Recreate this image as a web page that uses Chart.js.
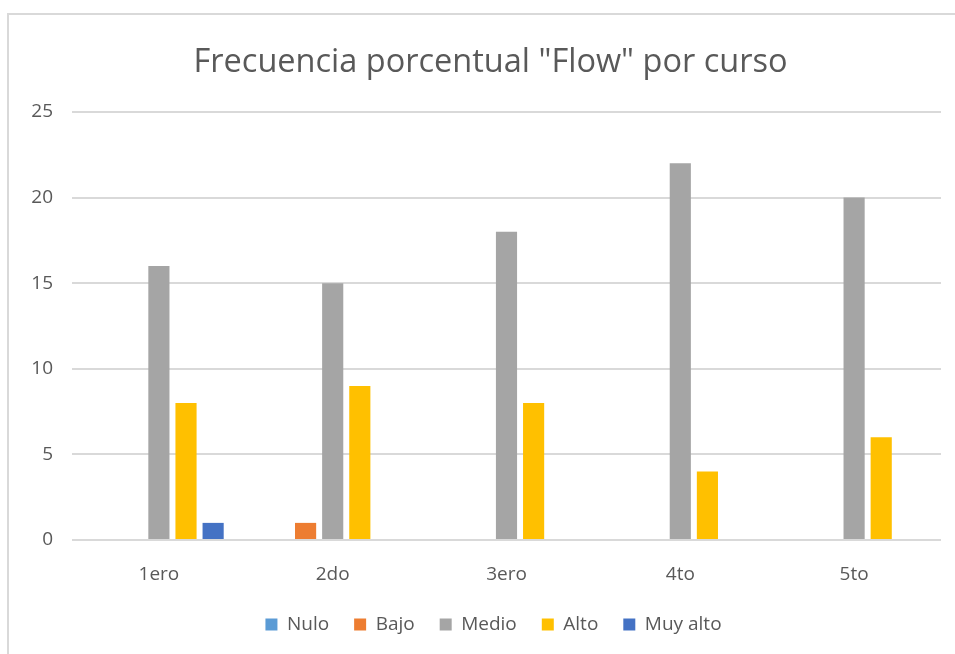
<!DOCTYPE html>
<html lang="es">
<head>
    <meta charset="UTF-8">
    <title>Frecuencia porcentual "Flow" por curso</title>
    <script src="https://cdn.jsdelivr.net/npm/chart.js"></script>
    <style>
        body {
            margin: 0;
            padding: 0;
            background: #ffffff;
        }
        .frame {
            position: absolute;
            left: 7px;
            top: 13px;
            width: 948px;
            height: 641px;
            border-left: 2px solid #d9d9d9;
            border-top: 2px solid #d9d9d9;
        }
        .chart-box {
            position: absolute;
            left: 0;
            top: 0;
            width: 955px;
            height: 654px;
        }
    </style>
</head>
<body>
    <div class="frame"></div>
    <div class="chart-box">
        <canvas id="flowChart"></canvas>
    </div>

    <script>
        // data
        const cursos = ['1ero', '2do', '3ero', '4to', '5to'];
        const nulo = [0, 0, 0, 0, 0];
        const bajo = [0, 1, 0, 0, 0];
        const medio = [16, 15, 18, 22, 20];
        const alto = [8, 9, 8, 4, 6];
        const muyAlto = [1, 0, 0, 0, 0];
        const yTicks = [0, 5, 10, 15, 20, 25];

        const textColor = '#595959';
        const fontFamily = "'Open Sans', 'Noto Sans', sans-serif";

        // title and legend sit a bit right of the canvas centre in the original
        const shiftBlocks = {
            id: 'shiftBlocks',
            afterLayout(chart) {
                chart.titleBlock.left += 40;
                chart.legend.left += 46;
            }
        };

        const ctx = document.getElementById('flowChart').getContext('2d');
        const chart = new Chart(ctx, {
            type: 'bar',
            data: {
                labels: cursos,
                datasets: [
                    { label: 'Nulo', data: nulo, backgroundColor: '#5b9bd5' },
                    { label: 'Bajo', data: bajo, backgroundColor: '#ed7d31' },
                    { label: 'Medio', data: medio, backgroundColor: '#a5a5a5' },
                    { label: 'Alto', data: alto, backgroundColor: '#ffc000' },
                    { label: 'Muy alto', data: muyAlto, backgroundColor: '#4472c4' }
                ]
            },
            options: {
                animation: false,
                responsive: true,
                maintainAspectRatio: false,
                categoryPercentage: 0.78,
                barPercentage: 0.78,
                layout: {
                    padding: { left: 0, right: 14, top: 0, bottom: 10 }
                },
                plugins: {
                    title: {
                        display: true,
                        text: 'Frecuencia porcentual "Flow" por curso',
                        color: textColor,
                        font: { family: fontFamily, size: 32.5, weight: 'normal' },
                        padding: { top: 43, bottom: 30 }
                    },
                    legend: {
                        position: 'bottom',
                        labels: {
                            color: textColor,
                            font: { family: fontFamily, size: 19 },
                            boxWidth: 12,
                            boxHeight: 12,
                            padding: 25
                        }
                    },
                    tooltip: { enabled: false }
                },
                scales: {
                    x: {
                        grid: { display: false, drawTicks: false },
                        border: { display: false },
                        ticks: {
                            color: textColor,
                            font: { family: fontFamily, size: 19 },
                            padding: 23
                        },
                        afterFit: function(scale) {
                            scale.height = 50;
                        }
                    },
                    y: {
                        min: 0,
                        max: 25,
                        grid: { color: '#d9d9d9', lineWidth: 2, drawTicks: false },
                        border: { display: false },
                        afterBuildTicks: function(scale) {
                            scale.ticks = yTicks.map(v => ({ value: v }));
                        },
                        ticks: {
                            color: textColor,
                            font: { family: fontFamily, size: 19 },
                            padding: 19
                        },
                        afterFit: function(scale) {
                            scale.width = 72;
                        }
                    }
                }
            },
            plugins: [shiftBlocks]
        });
    </script>
</body>
</html>
